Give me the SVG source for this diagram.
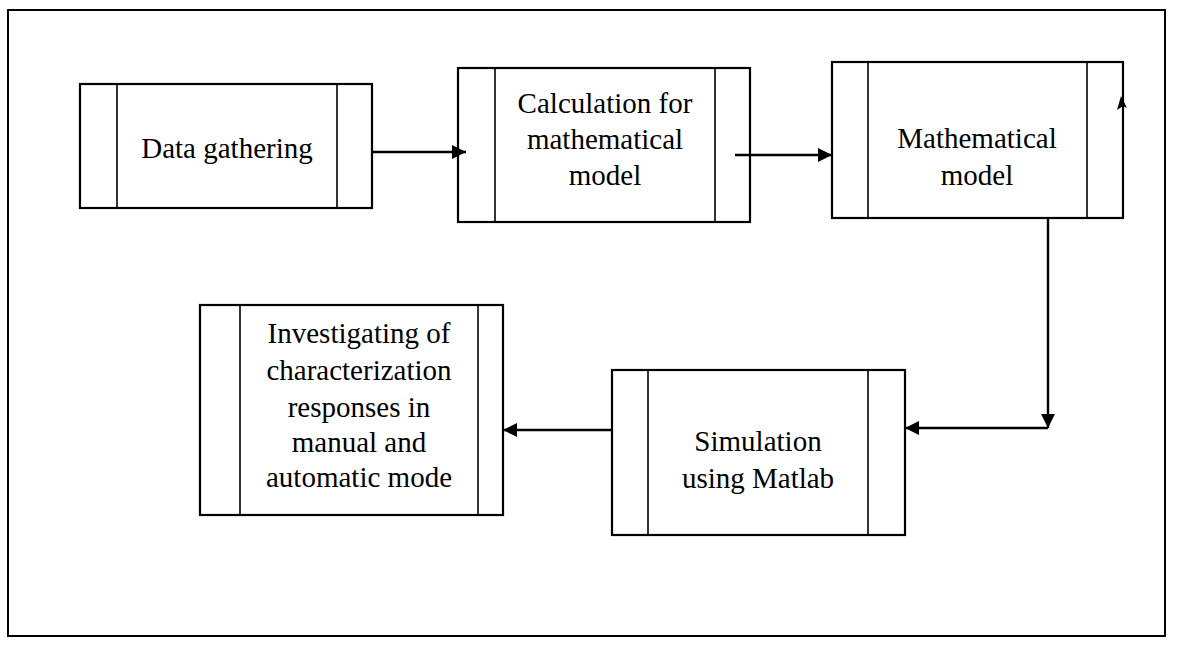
<svg xmlns="http://www.w3.org/2000/svg" width="1177" height="652" viewBox="0 0 1177 652">
  <style>
    .frame { fill: none; stroke: #000; stroke-width: 2; }
    .box { fill: #fff; stroke: #000; stroke-width: 2.2; }
    .bar { stroke: #000; stroke-width: 1.6; }
    .lbl { font-family: "Liberation Serif", "Times New Roman", serif; font-size: 29px; fill: #000; text-anchor: middle; }
    .link { fill: none; stroke: #000; stroke-width: 2.4; }
  </style>
  <defs>
    <marker id="head" viewBox="0 0 10 10" refX="10" refY="5" markerWidth="6" markerHeight="6" markerUnits="strokeWidth" orient="auto">
      <path d="M0,0 L10,5 L0,10 Z" fill="#000"/>
    </marker>
  </defs>
  <rect width="1177" height="652" fill="#fff"/>
  <rect class="frame" x="8" y="10" width="1157" height="626"/>

  <g id="data-gathering">
    <rect class="box" x="80" y="84" width="292" height="124"/>
    <line class="bar" x1="117" y1="84" x2="117" y2="208"/>
    <line class="bar" x1="337" y1="84" x2="337" y2="208"/>
    <text class="lbl" x="227" y="158">Data gathering</text>
  </g>

  <g id="calculation">
    <rect class="box" x="458" y="68" width="292" height="154"/>
    <line class="bar" x1="495" y1="68" x2="495" y2="222"/>
    <line class="bar" x1="715" y1="68" x2="715" y2="222"/>
    <text class="lbl" x="605" y="113">Calculation for</text>
    <text class="lbl" x="605" y="149">mathematical</text>
    <text class="lbl" x="605" y="185">model</text>
  </g>

  <g id="math-model">
    <rect class="box" x="832" y="62" width="291" height="156"/>
    <line class="bar" x1="868" y1="62" x2="868" y2="218"/>
    <line class="bar" x1="1087" y1="62" x2="1087" y2="218"/>
    <text class="lbl" x="977" y="148">Mathematical</text>
    <text class="lbl" x="977" y="185">model</text>
    <path d="M1117,110 L1121,96 L1127,108 L1123,106 Z" fill="#000"/>
  </g>

  <g id="simulation">
    <rect class="box" x="612" y="370" width="293" height="165"/>
    <line class="bar" x1="648" y1="370" x2="648" y2="535"/>
    <line class="bar" x1="868" y1="370" x2="868" y2="535"/>
    <text class="lbl" x="758" y="451">Simulation</text>
    <text class="lbl" x="758" y="488">using Matlab</text>
  </g>

  <g id="investigating">
    <rect class="box" x="200" y="305" width="303" height="210"/>
    <line class="bar" x1="240" y1="305" x2="240" y2="515"/>
    <line class="bar" x1="478" y1="305" x2="478" y2="515"/>
    <text class="lbl" x="359" y="343">Investigating of</text>
    <text class="lbl" x="359" y="380">characterization</text>
    <text class="lbl" x="359" y="417">responses in</text>
    <text class="lbl" x="359" y="452">manual and</text>
    <text class="lbl" x="359" y="487">automatic mode</text>
  </g>

  <g id="connectors">
    <line class="link" x1="372" y1="152" x2="466" y2="152" marker-end="url(#head)"/>
    <line class="link" x1="735" y1="155" x2="832" y2="155" marker-end="url(#head)"/>
    <line class="link" x1="1048" y1="218" x2="1048" y2="428" marker-end="url(#head)"/>
    <line class="link" x1="1048" y1="428" x2="905" y2="428" marker-end="url(#head)"/>
    <line class="link" x1="612" y1="430" x2="503" y2="430" marker-end="url(#head)"/>
  </g>
</svg>
